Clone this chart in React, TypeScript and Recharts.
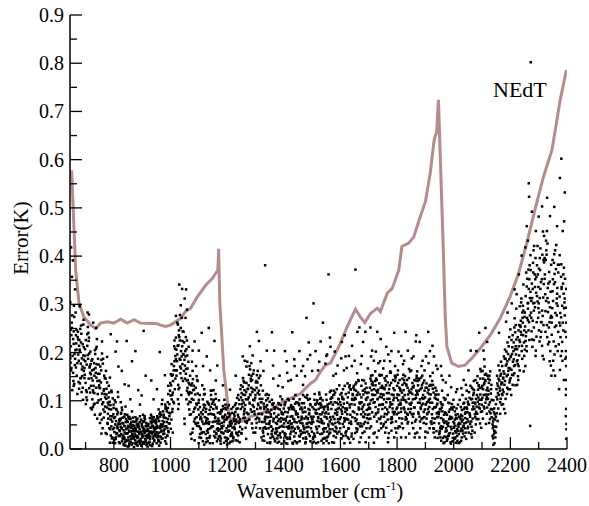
import React from "react"
import { ComposedChart, Scatter, Line, XAxis, YAxis } from "recharts"

// NEdT curve
const nedtX = [645, 651, 665, 677, 694, 718, 736, 753, 777, 800, 824, 847, 871, 894, 924, 950, 965, 983, 1000, 1018, 1035, 1053, 1071, 1095, 1125, 1148, 1159, 1167, 1170, 1174, 1188, 1206, 1214, 1229, 1253, 1283, 1318, 1353, 1388, 1424, 1459, 1494, 1512, 1529, 1547, 1565, 1594, 1624, 1653, 1670, 1686, 1706, 1730, 1741, 1765, 1783, 1806, 1817, 1841, 1859, 1882, 1900, 1917, 1931, 1940, 1946, 1964, 1970, 1976, 1993, 2017, 2040, 2064, 2094, 2129, 2164, 2199, 2229, 2258, 2288, 2317, 2347, 2376, 2398]
const nedtY = [0.575, 0.575, 0.371, 0.302, 0.274, 0.257, 0.25, 0.261, 0.264, 0.261, 0.269, 0.261, 0.268, 0.261, 0.26, 0.26, 0.257, 0.254, 0.257, 0.264, 0.271, 0.285, 0.292, 0.316, 0.34, 0.354, 0.364, 0.371, 0.415, 0.303, 0.164, 0.074, 0.055, 0.06, 0.057, 0.067, 0.074, 0.081, 0.095, 0.105, 0.115, 0.136, 0.143, 0.16, 0.174, 0.178, 0.212, 0.254, 0.29, 0.274, 0.262, 0.281, 0.292, 0.285, 0.323, 0.333, 0.371, 0.42, 0.427, 0.44, 0.482, 0.513, 0.572, 0.641, 0.658, 0.724, 0.399, 0.274, 0.212, 0.178, 0.171, 0.174, 0.188, 0.209, 0.236, 0.271, 0.316, 0.364, 0.427, 0.499, 0.565, 0.62, 0.724, 0.786]

// error scatter, 645 - 995
const dotsLeft: [number, number][] = [
  [648,.213],[662,.174],[651,.262],[657,.141],[666,.236],[646,.188],[659,.297],[653,.122],[668,.247],[655,.391],[649,.163],[664,.205],[660,.274],[647,.179],[656,.228],[669,.152],[652,.251],[661,.197],[658,.131],[665,.283],[650,.168],[667,.219],[654,.193],[649,.418],[652,.357],[663,.331],[646,.304],[658,.244],
  [673,.243],[688,.151],[679,.206],[671,.114],[692,.258],[676,.183],[684,.221],[690,.127],[674,.196],[681,.249],[694,.162],[677,.214],[686,.118],[672,.232],[689,.171],[680,.203],[675,.139],[693,.268],[683,.177],[678,.226],[691,.102],[687,.188],[682,.147],[685,.239],[679,.296],[694,.211],
  [699,.182],[712,.231],[704,.118],[717,.202],[696,.147],[708,.253],[701,.093],[714,.169],[706,.214],[719,.131],[698,.193],[710,.241],[703,.107],[716,.158],[707,.283],[700,.137],[713,.198],[718,.176],[705,.101],[711,.224],[697,.154],[715,.172],[702,.122],[709,.187],[712,.279],[718,.085],
  [723,.163],[737,.208],[729,.092],[742,.141],[721,.183],[733,.071],[726,.122],[740,.228],[731,.152],[744,.187],[724,.103],[735,.168],[728,.131],[739,.212],[722,.082],[736,.158],[743,.114],[730,.178],[725,.142],[741,.063],[734,.197],[727,.118],[738,.148],[732,.094],[737,.251],[727,.262],
  [748,.132],[761,.177],[753,.073],[766,.152],[746,.101],[758,.198],[751,.054],[764,.121],[755,.163],[769,.088],[749,.142],[760,.043],[767,.114],[752,.171],[763,.082],[747,.128],[757,.061],[768,.147],[754,.103],[762,.187],[750,.071],[765,.124],[756,.032],[759,.093],[758,.223],
  [773,.104],[786,.148],[778,.052],[791,.121],[771,.033],[783,.083],[776,.138],[789,.061],[774,.113],[794,.024],[781,.092],[772,.162],[787,.041],[779,.073],[792,.118],[775,.031],[785,.098],[777,.054],[790,.082],[782,.131],[793,.022],[780,.063],[788,.091],[784,.043],[789,.238],[776,.191],[786,.013],[794,.068],
  [798,.072],[811,.033],[803,.101],[816,.052],[796,.013],[808,.083],[801,.044],[814,.118],[806,.021],[819,.061],[799,.092],[809,.031],[817,.053],[804,.012],[812,.072],[797,.041],[815,.108],[807,.024],[820,.058],[802,.035],[810,.081],[818,.014],[805,.051],[813,.043],[806,.202],[816,.171],[811,.223],[800,.064],[819,.028],
  [823,.061],[836,.022],[828,.043],[841,.088],[821,.012],[833,.053],[826,.031],[839,.072],[831,.023],[844,.041],[824,.063],[834,.011],[842,.032],[829,.081],[837,.024],[822,.052],[840,.014],[827,.043],[843,.062],[832,.021],[838,.034],[825,.073],[835,.008],[830,.054],[828,.162],[838,.134],[845,.224],[841,.019],[824,.097],
  [848,.043],[861,.021],[853,.063],[866,.012],[846,.032],[858,.051],[851,.024],[864,.078],[856,.013],[869,.041],[849,.033],[859,.062],[867,.022],[854,.011],[862,.044],[847,.071],[865,.031],[852,.018],[868,.057],[857,.026],[863,.009],[850,.048],[860,.037],[855,.066],[852,.131],[864,.182],[858,.103],[866,.049],[849,.005],
  [873,.032],[886,.052],[878,.013],[891,.041],[871,.022],[883,.063],[876,.011],[889,.034],[881,.051],[894,.021],[874,.043],[884,.007],[892,.068],[879,.028],[887,.014],[872,.056],[890,.031],[877,.042],[893,.011],[882,.026],[888,.047],[875,.018],[885,.036],[880,.061],[876,.203],[886,.122],[892,.092],[871,.004],[883,.023],
  [898,.052],[911,.021],[903,.043],[916,.012],[896,.061],[908,.033],[901,.024],[914,.054],[906,.011],[919,.042],[899,.031],[909,.068],[917,.023],[904,.014],[912,.047],[897,.036],[915,.008],[902,.057],[918,.029],[907,.041],[913,.017],[900,.026],[910,.062],[905,.038],[905,.245],[912,.152],[898,.111],[919,.005],[903,.071],
  [923,.031],[936,.062],[928,.021],[941,.043],[921,.012],[933,.053],[926,.034],[939,.022],[931,.071],[944,.041],[924,.013],[934,.032],[942,.058],[929,.044],[937,.011],[922,.052],[940,.027],[927,.064],[943,.018],[932,.036],[938,.048],[925,.023],[935,.006],[930,.057],[932,.142],[940,.103],[945,.031],
  [948,.042],[961,.073],[953,.024],[966,.051],[946,.031],[958,.082],[951,.012],[964,.043],[956,.063],[969,.021],[949,.053],[959,.034],[967,.071],[954,.044],[962,.026],[947,.061],[965,.013],[952,.048],[968,.038],[957,.019],[963,.067],[950,.057],[960,.007],[955,.031],[952,.124],[962,.201],[969,.093],
  [973,.051],[986,.083],[978,.032],[991,.062],[971,.102],[983,.024],[976,.071],[989,.043],[981,.092],[994,.053],[974,.031],[984,.064],[992,.114],[979,.041],[987,.078],[972,.022],[990,.097],[977,.056],[993,.035],[982,.084],[988,.028],[975,.066],[985,.011],[980,.047],[980,.153],[992,.131],
]

// 995 - 1345
const dotsMidA: [number, number][] = [
  [998,.121],[1011,.163],[1003,.061],[1016,.208],[996,.093],[1008,.154],[1001,.042],[1014,.182],[1006,.112],[1019,.231],[999,.074],[1009,.141],[1017,.193],[1004,.103],[1012,.172],[997,.053],[1015,.124],[1002,.132],[1018,.163],[1007,.083],[1013,.213],[1000,.111],[1010,.098],[1005,.152],[1019,.276],[1008,.034],
  [1023,.182],[1036,.251],[1028,.124],[1041,.213],[1021,.152],[1033,.278],[1026,.103],[1039,.192],[1031,.232],[1044,.141],[1024,.262],[1034,.171],[1042,.224],[1029,.093],[1037,.203],[1022,.163],[1040,.272],[1027,.133],[1043,.244],[1032,.187],[1038,.112],[1025,.214],[1035,.157],[1030,.246],[1031,.341],[1041,.332],[1036,.298],[1027,.083],
  [1048,.221],[1061,.143],[1053,.192],[1066,.082],[1046,.243],[1058,.121],[1051,.173],[1064,.212],[1056,.103],[1069,.152],[1049,.063],[1059,.194],[1067,.134],[1054,.232],[1062,.093],[1047,.162],[1065,.113],[1052,.203],[1068,.071],[1057,.142],[1063,.181],[1050,.052],[1060,.127],[1055,.166],[1050,.312],[1055,.331],[1058,.289],[1053,.272],
  [1073,.132],[1086,.063],[1078,.162],[1091,.094],[1071,.031],[1083,.123],[1076,.181],[1089,.052],[1081,.102],[1094,.143],[1074,.021],[1084,.083],[1092,.151],[1079,.042],[1087,.113],[1072,.072],[1090,.172],[1077,.034],[1093,.092],[1082,.131],[1088,.054],[1075,.104],[1085,.018],[1080,.122],[1085,.223],[1078,.204],
  [1098,.082],[1111,.034],[1103,.112],[1116,.052],[1096,.141],[1108,.023],[1101,.071],[1114,.103],[1106,.043],[1119,.124],[1099,.012],[1109,.063],[1117,.092],[1104,.031],[1112,.132],[1097,.054],[1115,.081],[1102,.024],[1118,.113],[1107,.041],[1113,.072],[1100,.102],[1110,.033],[1105,.062],[1100,.204],[1110,.241],[1115,.172],[1119,.009],
  [1123,.053],[1136,.092],[1128,.022],[1141,.073],[1121,.114],[1133,.041],[1126,.083],[1139,.012],[1131,.062],[1144,.103],[1124,.031],[1134,.072],[1142,.121],[1129,.054],[1137,.023],[1122,.091],[1140,.043],[1127,.064],[1143,.112],[1132,.034],[1138,.081],[1125,.014],[1135,.052],[1130,.098],[1135,.251],[1128,.192],[1140,.163],
  [1148,.072],[1161,.033],[1153,.102],[1166,.053],[1146,.121],[1158,.024],[1151,.083],[1164,.041],[1156,.092],[1169,.063],[1149,.012],[1159,.114],[1167,.043],[1154,.071],[1162,.031],[1147,.094],[1165,.058],[1152,.122],[1168,.021],[1157,.064],[1163,.084],[1150,.047],[1160,.104],[1155,.036],[1155,.224],[1165,.173],[1160,.142],
  [1173,.052],[1186,.083],[1178,.022],[1191,.061],[1171,.101],[1183,.034],[1176,.073],[1189,.013],[1181,.054],[1194,.092],[1174,.041],[1184,.064],[1192,.024],[1179,.081],[1187,.032],[1172,.058],[1190,.102],[1177,.011],[1193,.071],[1182,.043],[1188,.067],[1175,.027],[1185,.089],[1180,.047],[1185,.132],
  [1198,.043],[1211,.072],[1203,.021],[1216,.053],[1196,.082],[1208,.012],[1201,.064],[1214,.031],[1206,.091],[1219,.044],[1199,.023],[1209,.056],[1217,.034],[1204,.074],[1212,.015],[1197,.061],[1215,.083],[1202,.036],[1218,.028],[1207,.067],[1213,.048],[1200,.009],[1210,.052],[1205,.038],[1210,.123],
  [1223,.063],[1236,.032],[1228,.091],[1241,.054],[1221,.022],[1233,.083],[1226,.043],[1239,.112],[1231,.061],[1244,.014],[1224,.073],[1234,.031],[1242,.102],[1229,.052],[1237,.084],[1222,.024],[1240,.066],[1227,.041],[1243,.093],[1232,.034],[1238,.071],[1225,.058],[1235,.106],[1230,.018],[1230,.152],
  [1248,.083],[1261,.122],[1253,.041],[1266,.103],[1246,.062],[1258,.141],[1251,.032],[1264,.091],[1256,.113],[1269,.054],[1249,.132],[1259,.072],[1267,.021],[1254,.101],[1262,.083],[1247,.124],[1265,.044],[1252,.093],[1268,.137],[1257,.064],[1263,.112],[1250,.033],[1260,.078],[1255,.129],[1255,.192],[1262,.183],[1268,.171],
  [1273,.103],[1286,.152],[1278,.061],[1291,.124],[1271,.181],[1283,.082],[1276,.132],[1289,.043],[1281,.113],[1294,.163],[1274,.072],[1284,.141],[1292,.102],[1279,.172],[1287,.053],[1272,.124],[1290,.091],[1277,.154],[1293,.034],[1282,.112],[1288,.143],[1275,.073],[1285,.178],[1280,.094],[1280,.213],[1290,.194],
  [1298,.122],[1311,.073],[1303,.141],[1316,.043],[1296,.101],[1308,.162],[1301,.062],[1314,.113],[1306,.083],[1319,.132],[1299,.034],[1309,.094],[1317,.152],[1304,.054],[1312,.121],[1297,.072],[1315,.104],[1302,.044],[1318,.084],[1307,.138],[1313,.063],[1300,.112],[1310,.091],[1305,.153],[1305,.243],[1312,.224],[1318,.182],
  [1323,.072],[1336,.112],[1328,.043],[1341,.091],[1321,.024],[1333,.063],[1326,.121],[1339,.052],[1331,.083],[1344,.031],[1324,.104],[1334,.061],[1342,.013],[1329,.094],[1337,.042],[1322,.073],[1340,.114],[1327,.034],[1343,.082],[1332,.056],[1338,.101],[1325,.018],[1335,.067],[1330,.088],[1334,.381],[1340,.204],[1328,.162],
]

// 1345 - 1695
const dotsMidB: [number, number][] = [
  [1348,.052],[1361,.091],[1353,.023],[1366,.074],[1346,.043],[1358,.102],[1351,.012],[1364,.063],[1356,.081],[1369,.034],[1349,.054],[1359,.093],[1367,.021],[1354,.072],[1362,.041],[1347,.112],[1365,.062],[1352,.014],[1368,.083],[1357,.031],[1363,.057],[1350,.098],[1360,.026],[1355,.067],[1358,.242],[1362,.173],[1366,.204],
  [1373,.043],[1386,.082],[1378,.013],[1391,.064],[1371,.032],[1383,.093],[1376,.052],[1389,.024],[1381,.071],[1394,.103],[1374,.041],[1384,.062],[1392,.011],[1379,.084],[1387,.033],[1372,.054],[1390,.091],[1377,.022],[1393,.073],[1382,.044],[1388,.109],[1375,.066],[1385,.029],[1380,.058],[1385,.152],[1380,.131],
  [1398,.062],[1411,.023],[1403,.091],[1416,.043],[1396,.074],[1408,.012],[1401,.053],[1414,.104],[1406,.031],[1419,.082],[1399,.061],[1409,.024],[1417,.043],[1404,.094],[1412,.011],[1397,.072],[1415,.054],[1402,.033],[1418,.101],[1407,.063],[1413,.021],[1400,.084],[1410,.046],[1405,.077],[1410,.182],[1404,.203],[1416,.141],
  [1423,.031],[1436,.082],[1428,.053],[1441,.112],[1421,.024],[1433,.063],[1426,.091],[1439,.042],[1431,.013],[1444,.074],[1424,.052],[1434,.104],[1442,.033],[1429,.083],[1437,.061],[1422,.021],[1440,.094],[1427,.043],[1443,.072],[1432,.011],[1438,.056],[1425,.087],[1435,.037],[1430,.068],[1430,.242],[1438,.172],[1425,.143],
  [1448,.072],[1461,.031],[1453,.094],[1466,.053],[1446,.012],[1458,.083],[1451,.043],[1464,.064],[1456,.103],[1469,.022],[1449,.073],[1459,.054],[1467,.034],[1454,.091],[1462,.061],[1447,.014],[1465,.082],[1452,.043],[1468,.112],[1457,.026],[1463,.067],[1450,.096],[1460,.038],[1455,.058],[1455,.203],[1462,.162],[1468,.133],
  [1473,.063],[1486,.102],[1478,.024],[1491,.081],[1471,.043],[1483,.112],[1476,.012],[1489,.072],[1481,.053],[1494,.091],[1474,.034],[1484,.064],[1492,.104],[1479,.021],[1487,.083],[1472,.041],[1490,.074],[1477,.014],[1493,.093],[1482,.052],[1488,.031],[1475,.108],[1485,.062],[1480,.045],[1480,.272],[1488,.221],[1475,.151],
  [1498,.052],[1511,.093],[1503,.021],[1516,.074],[1496,.043],[1508,.102],[1501,.062],[1514,.012],[1506,.083],[1519,.034],[1499,.063],[1509,.114],[1517,.041],[1504,.024],[1512,.092],[1497,.054],[1515,.073],[1502,.013],[1518,.101],[1507,.032],[1513,.081],[1500,.057],[1510,.026],[1505,.067],[1505,.302],[1512,.203],[1500,.162],
  [1523,.083],[1536,.032],[1528,.104],[1541,.053],[1521,.014],[1533,.072],[1526,.113],[1539,.041],[1531,.062],[1544,.023],[1524,.093],[1534,.054],[1542,.082],[1529,.031],[1537,.101],[1522,.064],[1540,.012],[1527,.072],[1543,.043],[1532,.091],[1538,.021],[1525,.117],[1535,.058],[1530,.086],[1530,.223],[1538,.262],[1525,.181],
  [1548,.043],[1561,.094],[1553,.063],[1566,.121],[1546,.022],[1558,.073],[1551,.102],[1564,.034],[1556,.082],[1569,.053],[1549,.113],[1559,.012],[1567,.061],[1554,.092],[1562,.041],[1547,.074],[1565,.104],[1552,.024],[1568,.083],[1557,.051],[1563,.118],[1550,.066],[1560,.031],[1555,.087],[1558,.362],[1550,.193],[1565,.212],
  [1573,.092],[1586,.043],[1578,.113],[1591,.062],[1571,.014],[1583,.081],[1576,.121],[1589,.032],[1581,.074],[1594,.103],[1574,.051],[1584,.024],[1592,.093],[1579,.062],[1587,.124],[1572,.041],[1590,.083],[1577,.013],[1593,.104],[1582,.054],[1588,.071],[1575,.112],[1585,.036],[1580,.097],[1580,.202],[1590,.173],[1575,.152],
  [1598,.062],[1611,.103],[1603,.031],[1616,.084],[1596,.132],[1608,.052],[1601,.091],[1614,.012],[1606,.073],[1619,.114],[1599,.043],[1609,.124],[1617,.061],[1604,.022],[1612,.094],[1597,.053],[1615,.131],[1602,.082],[1618,.034],[1607,.104],[1613,.064],[1600,.113],[1610,.027],[1605,.078],[1605,.222],[1612,.163],[1618,.192],
  [1623,.081],[1636,.123],[1628,.042],[1641,.104],[1621,.063],[1633,.132],[1626,.024],[1639,.093],[1631,.054],[1644,.112],[1624,.072],[1634,.013],[1642,.102],[1629,.043],[1637,.124],[1622,.084],[1640,.032],[1627,.061],[1643,.114],[1632,.092],[1638,.052],[1625,.136],[1635,.071],[1630,.021],[1630,.193],[1640,.172],
  [1648,.102],[1661,.053],[1653,.134],[1666,.083],[1646,.021],[1658,.112],[1651,.064],[1664,.141],[1656,.043],[1669,.094],[1649,.123],[1659,.072],[1667,.014],[1654,.104],[1662,.052],[1647,.131],[1665,.082],[1652,.033],[1668,.113],[1657,.061],[1663,.143],[1650,.092],[1660,.041],[1655,.121],[1653,.372],[1660,.243],[1667,.252],[1650,.183],
  [1673,.072],[1686,.124],[1678,.033],[1691,.102],[1671,.053],[1683,.142],[1676,.083],[1689,.014],[1681,.113],[1694,.064],[1674,.131],[1684,.092],[1692,.043],[1679,.121],[1687,.072],[1672,.024],[1690,.104],[1677,.143],[1693,.081],[1682,.052],[1688,.118],[1675,.097],[1685,.036],[1680,.067],[1680,.222],[1688,.243],[1675,.193],
]

// 1695 - 2045
const dotsMidC: [number, number][] = [
  [1698,.092],[1711,.134],[1703,.043],[1716,.112],[1696,.071],[1708,.152],[1701,.024],[1714,.103],[1706,.063],[1719,.124],[1699,.083],[1709,.141],[1717,.032],[1704,.094],[1712,.113],[1697,.054],[1715,.132],[1702,.072],[1718,.013],[1707,.101],[1713,.153],[1700,.062],[1710,.122],[1705,.084],[1706,.252],[1712,.204],[1718,.183],
  [1723,.112],[1736,.063],[1728,.143],[1741,.092],[1721,.034],[1733,.123],[1726,.074],[1739,.152],[1731,.103],[1744,.043],[1724,.132],[1734,.082],[1742,.114],[1729,.024],[1737,.091],[1722,.141],[1740,.062],[1727,.121],[1743,.053],[1732,.104],[1738,.154],[1725,.072],[1735,.038],[1730,.118],[1730,.243],[1740,.182],[1725,.202],
  [1748,.083],[1761,.132],[1753,.052],[1766,.104],[1746,.153],[1758,.034],[1751,.113],[1764,.072],[1756,.124],[1769,.023],[1749,.092],[1759,.142],[1767,.061],[1754,.103],[1762,.044],[1747,.131],[1765,.082],[1752,.112],[1768,.014],[1757,.073],[1763,.151],[1750,.093],[1760,.056],[1755,.127],[1755,.183],[1762,.212],
  [1773,.104],[1786,.143],[1778,.062],[1791,.122],[1771,.033],[1783,.093],[1776,.161],[1789,.072],[1781,.113],[1794,.043],[1774,.132],[1784,.084],[1792,.152],[1779,.054],[1787,.101],[1772,.124],[1790,.024],[1777,.092],[1793,.141],[1782,.063],[1788,.112],[1775,.158],[1785,.077],[1780,.038],[1790,.241],[1780,.203],[1775,.182],
  [1798,.083],[1811,.124],[1803,.043],[1816,.102],[1796,.151],[1808,.064],[1801,.113],[1814,.024],[1806,.092],[1819,.133],[1799,.072],[1809,.143],[1817,.053],[1804,.101],[1812,.121],[1797,.034],[1815,.084],[1802,.154],[1818,.063],[1807,.112],[1813,.092],[1800,.131],[1810,.046],[1805,.075],[1805,.202],[1815,.193],
  [1823,.122],[1836,.073],[1828,.151],[1841,.104],[1821,.043],[1833,.132],[1826,.082],[1839,.113],[1831,.024],[1844,.094],[1824,.143],[1834,.062],[1842,.121],[1829,.101],[1837,.053],[1822,.154],[1840,.083],[1827,.112],[1843,.032],[1832,.134],[1838,.071],[1825,.102],[1835,.143],[1830,.061],[1830,.243],[1838,.204],[1825,.183],
  [1848,.092],[1861,.143],[1853,.054],[1866,.112],[1846,.161],[1858,.073],[1851,.124],[1864,.032],[1856,.103],[1869,.152],[1849,.083],[1859,.131],[1867,.061],[1854,.114],[1862,.024],[1847,.093],[1865,.142],[1852,.072],[1868,.121],[1857,.043],[1863,.104],[1850,.163],[1860,.086],[1855,.128],[1858,.192],[1866,.223],
  [1873,.113],[1886,.062],[1878,.143],[1891,.094],[1871,.034],[1883,.124],[1876,.073],[1889,.152],[1881,.103],[1894,.054],[1874,.132],[1884,.083],[1892,.112],[1879,.024],[1887,.091],[1872,.141],[1890,.064],[1877,.121],[1893,.104],[1882,.043],[1888,.133],[1875,.076],[1885,.148],[1880,.096],[1880,.222],[1890,.183],
  [1898,.082],[1911,.123],[1903,.052],[1916,.104],[1896,.142],[1908,.034],[1901,.093],[1914,.131],[1906,.072],[1919,.113],[1899,.024],[1909,.083],[1917,.151],[1904,.063],[1912,.102],[1897,.121],[1915,.043],[1902,.092],[1918,.133],[1907,.074],[1913,.114],[1900,.036],[1910,.098],[1905,.127],[1910,.243],[1902,.192],[1916,.203],
  [1923,.072],[1936,.113],[1928,.043],[1941,.092],[1921,.132],[1933,.024],[1926,.083],[1939,.121],[1931,.054],[1944,.102],[1924,.141],[1934,.063],[1942,.094],[1929,.034],[1937,.112],[1922,.052],[1940,.074],[1927,.133],[1943,.023],[1932,.086],[1938,.104],[1925,.064],[1935,.127],[1930,.042],[1930,.192],[1938,.173],
  [1948,.053],[1961,.092],[1953,.024],[1966,.071],[1946,.113],[1958,.042],[1951,.083],[1964,.012],[1956,.064],[1969,.102],[1949,.031],[1959,.121],[1967,.054],[1954,.082],[1962,.023],[1947,.072],[1965,.106],[1952,.044],[1968,.014],[1957,.093],[1963,.061],[1950,.034],[1960,.078],[1955,.047],[1955,.172],[1962,.143],
  [1973,.043],[1986,.082],[1978,.021],[1991,.063],[1971,.104],[1983,.032],[1976,.071],[1989,.014],[1981,.054],[1994,.093],[1974,.024],[1984,.062],[1992,.041],[1979,.112],[1987,.033],[1972,.074],[1990,.011],[1977,.052],[1993,.084],[1982,.027],[1988,.066],[1975,.038],[1985,.095],[1980,.048],[1985,.152],
  [1998,.032],[2011,.063],[2003,.021],[2016,.051],[1996,.082],[2008,.013],[2001,.044],[2014,.072],[2006,.024],[2019,.054],[1999,.102],[2009,.034],[2017,.012],[2004,.061],[2012,.041],[1997,.023],[2015,.092],[2002,.053],[2018,.031],[2007,.071],[2013,.017],[2000,.046],[2010,.084],[2005,.037],[2012,.124],
  [2023,.052],[2036,.083],[2028,.024],[2041,.064],[2021,.102],[2033,.032],[2026,.071],[2039,.043],[2031,.112],[2044,.021],[2024,.062],[2034,.094],[2042,.034],[2029,.081],[2037,.053],[2022,.014],[2040,.073],[2027,.042],[2043,.104],[2032,.061],[2038,.026],[2025,.087],[2035,.048],[2030,.068],[2035,.143],
]

// 2045 - 2400
const dotsRight: [number, number][] = [
  [2048,.062],[2061,.103],[2053,.034],[2066,.082],[2046,.121],[2058,.052],[2051,.093],[2064,.024],[2056,.074],[2069,.112],[2049,.043],[2059,.131],[2067,.063],[2054,.092],[2062,.031],[2047,.083],[2065,.104],[2052,.057],[2068,.124],[2057,.071],[2063,.046],[2050,.098],[2060,.204],[2052,.163],[2066,.038],
  [2073,.083],[2086,.123],[2078,.051],[2091,.102],[2071,.141],[2083,.073],[2076,.094],[2089,.132],[2081,.062],[2094,.113],[2074,.034],[2084,.151],[2092,.084],[2079,.104],[2087,.062],[2072,.122],[2090,.093],[2077,.143],[2093,.053],[2082,.112],[2088,.131],[2075,.072],[2085,.098],[2080,.203],[2090,.241],[2094,.166],
  [2098,.102],[2111,.143],[2103,.063],[2116,.122],[2096,.161],[2108,.084],[2101,.131],[2114,.052],[2106,.112],[2119,.152],[2099,.092],[2109,.171],[2117,.073],[2104,.124],[2112,.141],[2097,.044],[2115,.103],[2102,.162],[2118,.086],[2107,.134],[2113,.113],[2100,.078],[2110,.154],[2105,.204],[2112,.251],[2118,.222],[2108,.186],
  [2123,.121],[2131,.083],[2126,.152],[2121,.104],[2128,.062],[2133,.133],[2124,.092],[2129,.161],[2122,.113],[2130,.074],[2127,.143],[2134,.102],[2125,.054],[2132,.124],[2136,.082],[2138,.043],[2140,.101],[2139,.022],[2141,.063],[2142,.031],[2143,.084],[2144,.012],[2137,.051],[2145,.072],[2140,.009],[2143,.038],
  [2148,.034],[2161,.142],[2153,.152],[2166,.104],[2146,.061],[2158,.173],[2151,.124],[2164,.073],[2156,.131],[2169,.092],[2149,.093],[2159,.112],[2167,.181],[2154,.103],[2162,.163],[2147,.024],[2165,.152],[2152,.074],[2168,.134],[2157,.084],[2163,.121],[2150,.046],[2160,.241],[2155,.058],[2170,.114],
  [2173,.123],[2186,.202],[2178,.083],[2191,.154],[2171,.172],[2183,.104],[2176,.161],[2189,.182],[2181,.141],[2194,.213],[2174,.093],[2184,.173],[2192,.124],[2179,.133],[2187,.151],[2172,.112],[2190,.221],[2177,.192],[2193,.162],[2182,.074],[2188,.114],[2175,.148],[2185,.264],[2190,.283],[2180,.187],
  [2198,.143],[2211,.203],[2203,.112],[2216,.174],[2196,.232],[2208,.133],[2201,.191],[2214,.252],[2206,.154],[2219,.213],[2199,.124],[2209,.181],[2217,.242],[2204,.164],[2212,.221],[2197,.138],[2215,.271],[2202,.193],[2218,.132],[2207,.211],[2213,.172],[2200,.248],[2210,.153],[2205,.302],[2215,.331],[2220,.196],
  [2223,.182],[2236,.253],[2228,.143],[2241,.214],[2221,.291],[2233,.163],[2226,.232],[2239,.312],[2231,.194],[2244,.262],[2224,.133],[2234,.222],[2242,.283],[2229,.172],[2237,.243],[2222,.321],[2240,.203],[2227,.151],[2243,.272],[2232,.226],[2238,.304],[2225,.184],[2235,.256],[2230,.213],[2230,.362],[2240,.401],[2245,.236],
  [2248,.221],[2261,.302],[2253,.172],[2266,.263],[2246,.341],[2258,.203],[2251,.283],[2264,.372],[2256,.242],[2269,.313],[2249,.193],[2259,.272],[2267,.352],[2254,.224],[2262,.291],[2247,.161],[2265,.332],[2252,.254],[2268,.381],[2257,.213],[2263,.303],[2250,.274],[2260,.353],[2255,.234],[2262,.432],[2265,.551],[2266,.523],[2270,.048],[2258,.462],[2253,.418],
  [2273,.283],[2286,.362],[2278,.212],[2291,.324],[2271,.402],[2283,.252],[2276,.343],[2289,.193],[2281,.302],[2294,.381],[2274,.272],[2284,.421],[2292,.233],[2279,.332],[2287,.294],[2272,.371],[2290,.204],[2277,.313],[2293,.263],[2282,.412],[2288,.352],[2275,.244],[2285,.303],[2280,.386],[2276,.492],[2272,.802],[2290,.452],[2283,.226],
  [2298,.272],[2311,.352],[2303,.223],[2316,.314],[2296,.421],[2308,.263],[2301,.374],[2314,.193],[2306,.332],[2319,.442],[2299,.292],[2309,.243],[2317,.392],[2304,.313],[2312,.214],[2297,.362],[2315,.451],[2302,.283],[2318,.342],[2307,.232],[2313,.403],[2300,.302],[2310,.263],[2305,.371],[2300,.482],[2312,.503],[2318,.186],
  [2323,.321],[2336,.252],[2328,.403],[2341,.203],[2321,.353],[2333,.284],[2326,.432],[2339,.182],[2331,.313],[2344,.382],[2324,.243],[2334,.343],[2342,.272],[2329,.452],[2337,.222],[2322,.362],[2340,.294],[2327,.412],[2343,.173],[2332,.334],[2338,.263],[2325,.392],[2335,.304],[2330,.232],[2330,.521],[2340,.483],[2345,.152],
  [2348,.292],[2361,.373],[2353,.223],[2366,.334],[2346,.262],[2358,.412],[2351,.183],[2364,.312],[2356,.363],[2369,.243],[2349,.392],[2359,.282],[2367,.203],[2354,.342],[2362,.423],[2347,.273],[2365,.322],[2352,.163],[2368,.382],[2357,.253],[2363,.302],[2350,.352],[2360,.213],[2355,.404],[2355,.502],[2365,.462],[2358,.152],
  [2373,.262],[2386,.343],[2378,.193],[2391,.304],[2371,.382],[2383,.222],[2376,.282],[2389,.143],[2381,.332],[2394,.243],[2374,.402],[2384,.183],[2392,.312],[2379,.273],[2387,.362],[2372,.124],[2390,.292],[2377,.232],[2393,.353],[2382,.203],[2388,.322],[2375,.164],[2385,.262],[2380,.383],[2375,.562],[2380,.602],[2385,.452],[2392,.532],[2390,.472],
  [2397,.021],[2398,.052],[2397,.083],[2396,.112],[2398,.143],[2397,.172],[2396,.203],[2398,.232],[2397,.262],[2398,.041],[2396,.068],[2397,.124],[2398,.191],[2396,.293],[2397,.332],
]

// extra points in the dense cores, 645 - 1345
const dotsFillA: [number, number][] = [
  [650,.236],[663,.187],[656,.158],[668,.206],[647,.247],[660,.135],[653,.277],[666,.169],[658,.218],[645,.196],
  [674,.227],[687,.165],[680,.136],[692,.194],[671,.178],[684,.256],[677,.125],[690,.217],[683,.147],[694,.185],
  [698,.207],[711,.146],[704,.175],[716,.117],[701,.226],[708,.195],[719,.155],[696,.168],[713,.126],[706,.238],
  [724,.186],[737,.127],[729,.165],[742,.096],[721,.147],[733,.205],[739,.176],[726,.087],[744,.156],[731,.116],
  [749,.156],[762,.097],[754,.138],[767,.077],[746,.175],[758,.115],[764,.065],[751,.126],[769,.107],[756,.185],
  [774,.125],[787,.068],[779,.096],[791,.047],[771,.146],[783,.117],[789,.028],[776,.086],[794,.057],[781,.107],
  [799,.085],[812,.047],[804,.066],[817,.027],[796,.105],[808,.058],[814,.076],[801,.018],[819,.039],[806,.097],
  [824,.046],[837,.067],[829,.016],[842,.056],[821,.037],[833,.028],[839,.047],[826,.075],[844,.018],[831,.065],[822,.027],[836,.048],[841,.007],[828,.086],[834,.039],
  [849,.056],[862,.027],[854,.038],[867,.065],[846,.017],[858,.036],[864,.048],[851,.067],[869,.026],[856,.045],[847,.058],[860,.015],[866,.037],[853,.006],[861,.055],
  [874,.026],[887,.045],[879,.057],[892,.016],[871,.038],[883,.047],[889,.017],[876,.066],[894,.035],[881,.008],[872,.048],[885,.025],[891,.056],[878,.037],[884,.015],
  [899,.047],[912,.027],[904,.056],[917,.038],[896,.016],[908,.065],[914,.037],[901,.046],[919,.025],[906,.058],[897,.007],[910,.036],[916,.049],[903,.028],[909,.015],
  [924,.037],[937,.057],[929,.026],[942,.016],[921,.048],[933,.067],[939,.035],[926,.015],[944,.056],[931,.045],[922,.028],[935,.047],[941,.066],[928,.008],[943,.037],
  [949,.026],[962,.047],[954,.065],[967,.036],[946,.056],[958,.017],[964,.076],[951,.035],[969,.048],[956,.027],[947,.045],[960,.058],[966,.025],[953,.068],[959,.016],
  [974,.078],[987,.056],[979,.065],[992,.037],[971,.046],[983,.087],[989,.027],[976,.038],[994,.075],[981,.016],[972,.058],[985,.047],[991,.085],
  [999,.137],[1012,.095],[1004,.176],[1017,.146],[996,.068],[1008,.117],[1014,.225],[1001,.155],[1019,.186],[1006,.077],
  [1024,.196],[1037,.167],[1029,.236],[1042,.176],[1021,.206],[1033,.225],[1039,.147],[1026,.258],[1044,.197],[1031,.127],[1035,.185],[1028,.215],
  [1049,.185],[1062,.117],[1054,.156],[1067,.098],[1046,.196],[1058,.225],[1064,.137],[1051,.146],[1069,.118],[1056,.207],[1060,.167],
  [1074,.116],[1087,.086],[1079,.145],[1092,.066],[1071,.097],[1083,.057],[1089,.127],[1076,.136],[1094,.048],[1081,.077],
  [1099,.096],[1112,.057],[1104,.087],[1117,.035],[1096,.115],[1108,.076],[1114,.016],[1101,.047],[1119,.086],[1106,.066],
  [1124,.077],[1137,.056],[1129,.038],[1142,.087],[1121,.066],[1133,.095],[1139,.027],[1126,.058],[1144,.045],[1131,.016],
  [1149,.056],[1162,.087],[1154,.027],[1167,.075],[1146,.047],[1158,.066],[1164,.016],[1151,.098],[1169,.038],[1156,.057],
  [1174,.076],[1187,.048],[1179,.035],[1192,.085],[1171,.026],[1183,.067],[1189,.056],[1176,.017],[1194,.037],[1181,.078],
  [1199,.066],[1212,.027],[1204,.048],[1217,.075],[1196,.017],[1208,.038],[1214,.058],[1201,.086],[1219,.016],[1206,.047],
  [1224,.046],[1237,.017],[1229,.077],[1242,.036],[1221,.087],[1233,.056],[1239,.028],[1226,.068],[1244,.057],[1231,.095],
  [1249,.107],[1262,.065],[1254,.087],[1267,.118],[1246,.046],[1258,.096],[1264,.057],[1251,.116],[1269,.075],[1256,.147],[1260,.138],
  [1274,.125],[1287,.077],[1279,.096],[1292,.156],[1271,.058],[1283,.146],[1289,.118],[1276,.107],[1294,.087],[1281,.165],[1285,.127],
  [1299,.106],[1312,.147],[1304,.127],[1317,.086],[1296,.078],[1308,.116],[1314,.057],[1301,.138],[1319,.097],[1306,.065],
  [1324,.056],[1337,.087],[1329,.027],[1342,.066],[1321,.097],[1333,.045],[1339,.076],[1326,.038],[1344,.105],[1331,.017],
]

// extra points in the dense cores, 1345 - 2400
const dotsFillB: [number, number][] = [
  [1349,.076],[1362,.025],[1354,.047],[1367,.086],[1346,.066],[1358,.037],[1364,.095],[1351,.058],[1369,.016],[1356,.046],
  [1374,.067],[1387,.046],[1379,.028],[1392,.077],[1371,.086],[1383,.015],[1389,.057],[1376,.036],[1394,.048],[1381,.095],
  [1399,.046],[1412,.067],[1404,.027],[1417,.085],[1396,.036],[1408,.058],[1414,.076],[1401,.016],[1419,.047],[1406,.097],
  [1424,.067],[1437,.026],[1429,.045],[1442,.078],[1421,.058],[1433,.087],[1439,.016],[1426,.036],[1444,.097],[1431,.046],
  [1449,.046],[1462,.086],[1454,.027],[1467,.076],[1446,.055],[1458,.037],[1464,.095],[1451,.066],[1469,.048],[1456,.016],
  [1474,.086],[1487,.046],[1479,.067],[1492,.027],[1471,.095],[1483,.036],[1489,.055],[1476,.077],[1494,.016],[1481,.106],
  [1499,.036],[1512,.075],[1504,.056],[1517,.096],[1496,.067],[1508,.027],[1514,.046],[1501,.087],[1519,.058],[1506,.015],
  [1524,.047],[1537,.076],[1529,.095],[1542,.036],[1521,.066],[1533,.017],[1539,.087],[1526,.056],[1544,.067],[1531,.106],
  [1549,.076],[1562,.057],[1554,.036],[1567,.097],[1546,.088],[1558,.047],[1564,.066],[1551,.017],[1569,.107],[1556,.026],
  [1574,.067],[1587,.096],[1579,.037],[1592,.056],[1571,.106],[1583,.046],[1589,.076],[1576,.027],[1594,.085],[1581,.117],
  [1599,.097],[1612,.046],[1604,.116],[1617,.077],[1596,.036],[1608,.087],[1614,.057],[1601,.066],[1619,.028],[1606,.108],
  [1624,.096],[1637,.057],[1629,.117],[1642,.066],[1621,.037],[1633,.086],[1639,.026],[1626,.107],[1644,.078],[1631,.128],
  [1649,.076],[1662,.117],[1654,.058],[1667,.096],[1646,.127],[1658,.036],[1664,.086],[1651,.106],[1669,.047],[1656,.138],
  [1674,.107],[1687,.056],[1679,.088],[1692,.127],[1671,.096],[1683,.066],[1689,.136],[1676,.047],[1694,.116],[1681,.077],
  [1699,.117],[1712,.076],[1704,.127],[1717,.096],[1696,.107],[1708,.047],[1714,.138],[1701,.086],[1719,.067],[1706,.146],
  [1724,.087],[1737,.136],[1729,.057],[1742,.127],[1721,.097],[1733,.076],[1739,.108],[1726,.146],[1744,.067],[1731,.117],
  [1749,.126],[1762,.097],[1754,.067],[1767,.138],[1746,.107],[1758,.086],[1764,.116],[1751,.047],[1769,.076],[1756,.147],
  [1774,.087],[1787,.126],[1779,.137],[1792,.077],[1771,.116],[1783,.056],[1789,.106],[1776,.097],[1794,.147],[1781,.066],
  [1799,.106],[1812,.096],[1804,.137],[1817,.117],[1796,.057],[1808,.127],[1814,.077],[1801,.086],[1819,.146],[1806,.047],
  [1824,.086],[1837,.127],[1829,.076],[1842,.147],[1821,.107],[1833,.097],[1839,.056],[1826,.137],[1844,.117],[1831,.066],
  [1849,.117],[1862,.086],[1854,.137],[1867,.106],[1846,.076],[1858,.128],[1864,.057],[1851,.096],[1869,.147],[1856,.067],
  [1874,.096],[1887,.127],[1879,.067],[1892,.137],[1871,.117],[1883,.086],[1889,.106],[1876,.146],[1894,.077],[1881,.057],
  [1899,.107],[1912,.077],[1904,.136],[1917,.096],[1896,.066],[1908,.117],[1914,.087],[1901,.127],[1919,.056],[1906,.097],
  [1924,.096],[1937,.087],[1929,.117],[1942,.066],[1921,.057],[1933,.106],[1939,.037],[1926,.125],[1944,.076],[1931,.086],
  [1949,.077],[1962,.046],[1954,.097],[1967,.026],[1946,.066],[1958,.086],[1964,.057],[1951,.038],[1969,.076],[1956,.017],
  [1974,.057],[1987,.067],[1979,.027],[1992,.086],[1971,.036],[1983,.077],[1989,.046],[1976,.017],[1994,.065],[1981,.096],
  [1999,.056],[2012,.027],[2004,.078],[2017,.046],[1996,.016],[2008,.065],[2014,.038],[2001,.087],[2019,.067],[2006,.048],
  [2024,.037],[2037,.096],[2029,.057],[2042,.076],[2021,.066],[2033,.046],[2039,.086],[2026,.017],[2044,.055],[2031,.038],
  [2049,.076],[2062,.057],[2054,.118],[2067,.096],[2046,.086],[2058,.067],[2064,.127],[2051,.046],[2069,.088],[2056,.106],
  [2074,.096],[2087,.107],[2079,.077],[2092,.127],[2071,.116],[2083,.137],[2089,.086],[2076,.066],[2094,.146],[2081,.088],
  [2099,.126],[2112,.096],[2104,.146],[2117,.108],[2096,.077],[2108,.137],[2114,.156],[2101,.106],[2119,.127],[2106,.088],
  [2124,.137],[2128,.097],[2131,.115],[2126,.078],[2134,.066],[2122,.146],[2137,.027],[2140,.047],[2142,.076],[2144,.036],[2139,.057],
  [2149,.067],[2162,.127],[2154,.136],[2167,.156],[2146,.046],[2158,.146],[2164,.097],[2151,.108],[2169,.138],[2156,.116],
  [2174,.146],[2187,.176],[2179,.156],[2192,.197],[2171,.137],[2183,.187],[2189,.127],[2176,.118],[2194,.168],[2181,.206],
  [2199,.167],[2212,.186],[2204,.226],[2217,.207],[2196,.186],[2208,.236],[2214,.157],[2201,.147],[2219,.257],[2206,.197],
  [2224,.207],[2237,.266],[2229,.246],[2242,.187],[2221,.227],[2233,.296],[2239,.237],[2226,.176],[2244,.297],[2231,.257],
  [2249,.246],[2262,.267],[2254,.317],[2267,.226],[2246,.287],[2258,.337],[2264,.246],[2251,.206],[2269,.277],[2256,.366],
  [2274,.307],[2287,.336],[2279,.266],[2292,.357],[2271,.326],[2283,.287],[2289,.396],[2276,.227],[2294,.317],[2281,.366],
  [2299,.336],[2312,.287],[2304,.396],[2317,.257],[2296,.306],[2308,.346],[2314,.276],[2301,.246],[2319,.387],[2306,.416],
  [2324,.286],[2337,.367],[2329,.257],[2342,.326],[2321,.396],[2333,.217],[2339,.347],[2326,.307],[2344,.276],[2331,.426],
  [2349,.327],[2362,.256],[2354,.386],[2367,.297],[2346,.237],[2358,.346],[2364,.277],[2351,.307],[2369,.366],[2356,.196],
  [2374,.316],[2387,.246],[2379,.357],[2392,.277],[2371,.217],[2383,.297],[2389,.376],[2376,.256],[2394,.187],[2381,.336],
]

// loose points above the middle cloud, 1360 - 2045
const dotsSparse: [number, number][] = [
  [1363,.146],[1396,.128],[1412,.158],[1437,.186],[1446,.152],[1468,.172],[1484,.186],[1493,.195],[1521,.163],[1547,.177],
  [1553,.196],[1563,.231],[1584,.156],[1603,.188],[1615,.236],[1622,.168],[1641,.214],[1659,.157],[1672,.176],[1697,.167],
  [1708,.192],[1723,.161],[1734,.178],[1742,.228],[1751,.167],[1769,.196],[1778,.158],[1793,.172],[1803,.163],[1821,.176],
  [1842,.166],[1852,.188],[1868,.236],[1871,.161],[1886,.172],[1897,.163],[1911,.178],[1925,.214],[1926,.158],[1943,.166],
  [1957,.152],[1972,.138],[1991,.128],[2008,.118],[2027,.126],[2043,.133],
]

const xTicks = [700, 800, 900, 1000, 1100, 1200, 1300, 1400, 1500, 1600, 1700, 1800, 1900, 2000, 2100, 2200, 2300, 2400]
const yTicks = [0, 0.05, 0.1, 0.15, 0.2, 0.25, 0.3, 0.35, 0.4, 0.45, 0.5, 0.55, 0.6, 0.65, 0.7, 0.75, 0.8, 0.85, 0.9]

const nedtData = nedtX.map((x, i) => ({ x, y: nedtY[i] }))
const dotData = [...dotsLeft, ...dotsMidA, ...dotsMidB, ...dotsMidC, ...dotsRight, ...dotsFillA, ...dotsFillB, ...dotsSparse]
  .map(([x, y]) => ({ x, y }))

const FONT = "'Liberation Serif', 'Times New Roman', serif"
const LINE = "#b58b8b"

const isMajorX = (v: number) => v % 200 === 0
const isMajorY = (v: number) => Math.round(v * 100) % 10 === 0

const BottomTick = (p: any) => {
  const v = p.payload.value
  const major = isMajorX(v)
  return (
    <g>
      <line x1={p.x} y1={p.y} x2={p.x} y2={p.y - (major ? 12 : 7)} stroke="#000" strokeWidth={1.3} />
      {major && (
        <text x={p.x} y={p.y + 23} textAnchor="middle" fontSize={20} fontFamily={FONT} fill="#000">
          {v}
        </text>
      )}
    </g>
  )
}

const TopTick = (p: any) => {
  const major = isMajorX(p.payload.value)
  return <line x1={p.x} y1={p.y} x2={p.x} y2={p.y + (major ? 12 : 7)} stroke="#000" strokeWidth={1.3} />
}

const LeftTick = (p: any) => {
  const v = p.payload.value
  const major = isMajorY(v)
  return (
    <g>
      <line x1={p.x} y1={p.y} x2={p.x + (major ? 12 : 7)} y2={p.y} stroke="#000" strokeWidth={1.3} />
      {major && (
        <text x={p.x - 6} y={p.y + 7} textAnchor="end" fontSize={20} fontFamily={FONT} fill="#000">
          {v.toFixed(1)}
        </text>
      )}
    </g>
  )
}

const RightTick = (p: any) => {
  const major = isMajorY(p.payload.value)
  return <line x1={p.x} y1={p.y} x2={p.x - (major ? 12 : 7)} y2={p.y} stroke="#000" strokeWidth={1.3} />
}

const Dot = (p: any) => <rect x={p.cx - 1.25} y={p.cy - 1.25} width={2.5} height={2.5} fill="#000" />

const axisLine = { stroke: "#000", strokeWidth: 1.5 }

export default function App() {
  return (
    <div style={{ position: "fixed", left: 0, top: 0, width: 589, height: 506, background: "#fff" }}>
      <ComposedChart width={589} height={506} margin={{ top: 15, right: 22, bottom: 17, left: 10 }}>
        <XAxis xAxisId="b" type="number" dataKey="x" domain={[645, 2400]} ticks={xTicks} allowDataOverflow
          height={40} tickSize={0} tickMargin={0} tickLine={false} axisLine={axisLine} tick={<BottomTick />} interval={0} />
        <XAxis xAxisId="t" orientation="top" type="number" dataKey="x" domain={[645, 2400]} ticks={xTicks} allowDataOverflow
          height={0} tickSize={0} tickMargin={0} tickLine={false} axisLine={axisLine} tick={<TopTick />} interval={0} />
        <YAxis yAxisId="l" type="number" domain={[0, 0.9]} ticks={yTicks} allowDataOverflow
          width={60} tickSize={0} tickMargin={0} tickLine={false} axisLine={axisLine} tick={<LeftTick />} interval={0} />
        <YAxis yAxisId="r" orientation="right" type="number" domain={[0, 0.9]} ticks={yTicks} allowDataOverflow
          width={0} tickSize={0} tickMargin={0} tickLine={false} axisLine={axisLine} tick={<RightTick />} interval={0} />
        <Scatter xAxisId="b" yAxisId="l" data={dotData} dataKey="y" shape={<Dot />} isAnimationActive={false} />
        <Line xAxisId="b" yAxisId="l" data={nedtData} dataKey="y" type="linear" stroke={LINE} strokeWidth={3}
          dot={false} activeDot={false} isAnimationActive={false} />
      </ComposedChart>
      <svg width={589} height={506} style={{ position: "absolute", left: 0, top: 0, pointerEvents: "none" }}>
        <text x={493} y={97} fontSize={22} fontFamily={FONT} fill="#000">NEdT</text>
        <text x={28} y={238} fontSize={21} fontFamily={FONT} fill="#000" textAnchor="middle" transform="rotate(-90 28 238)">
          Error(K)
        </text>
        <text x={320} y={498} fontSize={21} fontFamily={FONT} fill="#000" textAnchor="middle">
          Wavenumber (cm<tspan dy={-8} fontSize={12}>-1</tspan><tspan dy={8}>)</tspan>
        </text>
      </svg>
    </div>
  )
}
